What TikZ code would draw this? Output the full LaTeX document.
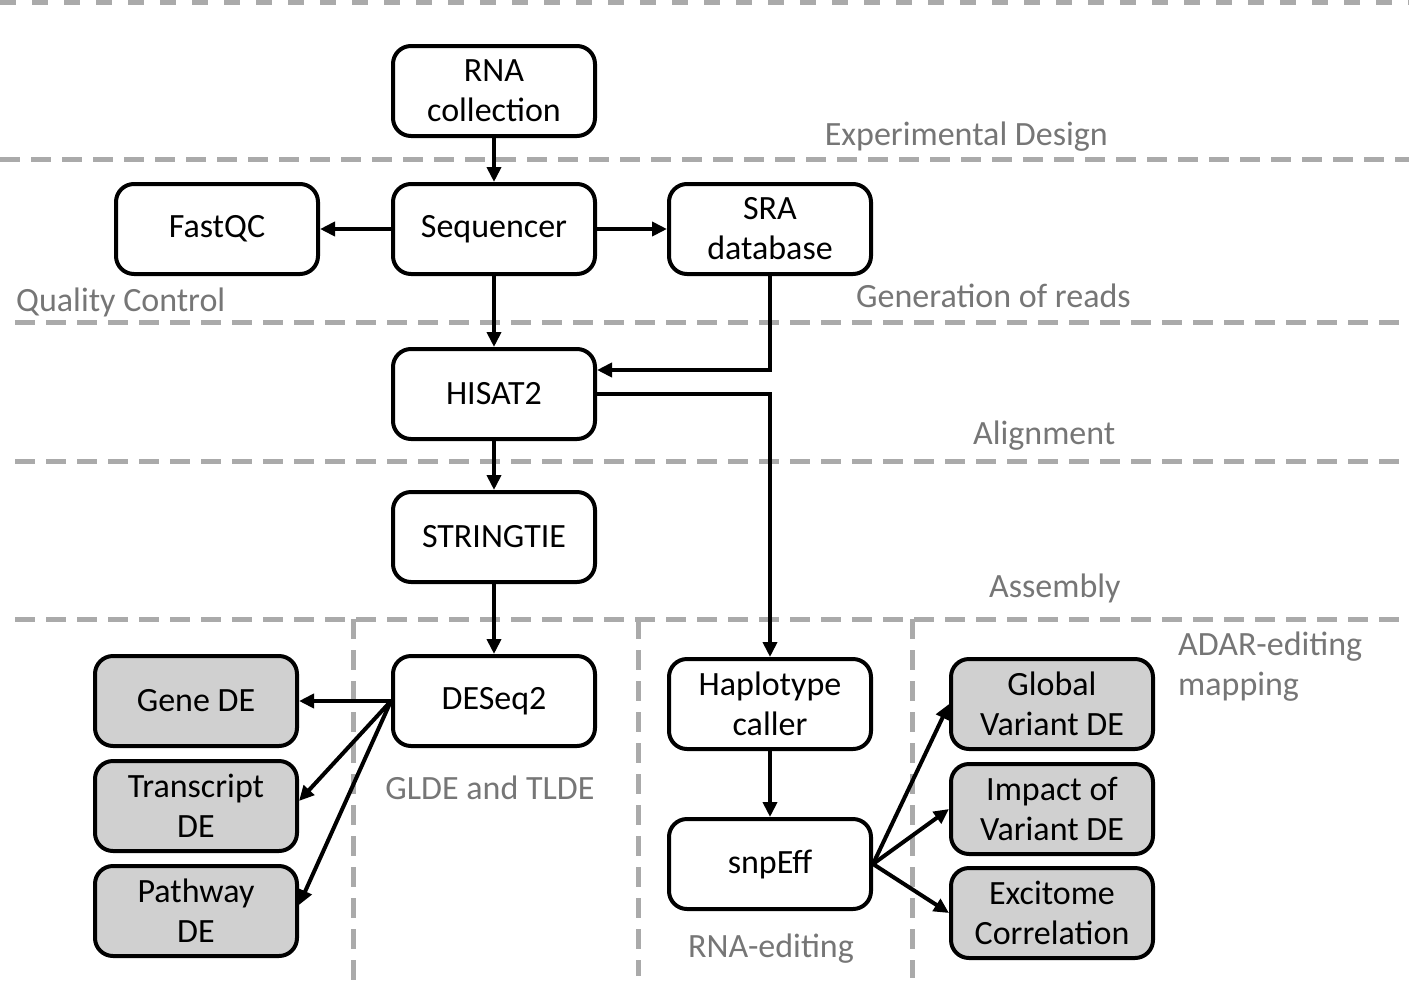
\documentclass[tikz,border=0pt]{standalone}
\usepackage{fontspec}
\setmainfont{Carlito}
\usetikzlibrary{arrows.meta,calc}
\definecolor{dashgray}{RGB}{170,170,170}
\definecolor{labelgray}{RGB}{118,118,118}
\definecolor{boxgray}{RGB}{208,208,208}
\tikzset{
  stepbox/.style={draw=black, line width=4pt, rounded corners=18pt, minimum width=202pt, minimum height=90pt, align=center, inner sep=2pt, font=\fontsize{34}{40}\selectfont},
  graybox/.style={stepbox, fill=boxgray},
  sep/.style={draw=dashgray, line width=5pt, dash pattern=on 20pt off 11pt},
  lbl/.style={text=labelgray, inner sep=0pt, font=\fontsize{34}{40}\selectfont},
  arr/.style={line width=4pt, -{Triangle[length=15pt,width=14pt]}}
}
\begin{document}
\begin{tikzpicture}[x=1pt,y=-1pt]
\useasboundingbox (0,0) rectangle (1409,986);
% separators
\draw[draw=dashgray, line width=5pt, dash pattern=on 16pt off 16pt] (0,2) -- (1409,2);
\draw[sep] (0,159) -- (1409,159);
\draw[sep] (15,322) -- (1409,322);
\draw[sep] (15,461) -- (1409,461);
\draw[sep] (15,619) -- (1409,619);
\draw[sep] (353,619) -- (353,986);
\draw[sep] (638,619) -- (638,976);
\draw[sep] (912,619) -- (912,978);
% boxes
\node[stepbox] (rna) at (494,91) {RNA\\collection};
\node[stepbox] (seq) at (494,229) {Sequencer};
\node[stepbox] (fqc) at (217,229) {FastQC};
\node[stepbox] (sra) at (770,229) {SRA\\database};
\node[stepbox] (his) at (494,394) {HISAT2};
\node[stepbox] (str) at (494,537) {STRINGTIE};
\node[stepbox] (des) at (494,701) {DESeq2};
\node[stepbox] (hap) at (770,704) {Haplotype\\caller};
\node[stepbox] (snp) at (770,864) {snpEff};
\node[graybox] (gene) at (196,701) {Gene DE};
\node[graybox] (tr) at (196,806) {Transcript\\DE};
\node[graybox] (pw) at (196,911) {Pathway\\DE};
\node[graybox] (glob) at (1052,704) {Global\\Variant DE};
\node[graybox] (imp) at (1052,809) {Impact of\\Variant DE};
\node[graybox] (exc) at (1052,913) {Excitome\\Correlation};
% labels
\node[lbl, anchor=base east] (lexp) at (1108,145) {Experimental Design};
\node[lbl, anchor=base west] (lqc) at (16,311) {Quality Control};
\node[lbl, anchor=base west] (lgen) at (856,307) {Generation of reads};
\node[lbl, anchor=base west] (lali) at (973,444) {Alignment};
\node[lbl, anchor=base west] (lass) at (989,597) {Assembly};
\node[lbl, anchor=west, align=left] (ladar) at (1178,667) {ADAR-editing\\mapping};
\node[lbl, anchor=base] (lglde) at (490,799) {GLDE and TLDE};
\node[lbl, anchor=base] (lrna) at (771,957) {RNA-editing};
% connectors
\draw[arr] (rna) -- (seq);
\draw[arr] (seq) -- (fqc);
\draw[arr] (seq) -- (sra);
\draw[arr] (seq) -- (his);
\draw[arr] (sra.south) |- ($(his.east)+(0,-24)$);
\draw[arr] (his.east) -| (hap.north);
\draw[arr] (his) -- (str);
\draw[arr] (str) -- (des);
\draw[arr] (des.west) -- (gene.east);
\draw[arr] (des.west) -- ($(tr.east)+(0,-5)$);
\draw[arr] (des.west) -- ($(pw.east)+(0,-6)$);
\draw[arr] (hap) -- (snp);
\draw[arr] (snp.east) -- (glob.west);
\draw[arr] (snp.east) -- (imp.west);
\draw[arr] (snp.east) -- (exc.west);
\end{tikzpicture}
\end{document}
